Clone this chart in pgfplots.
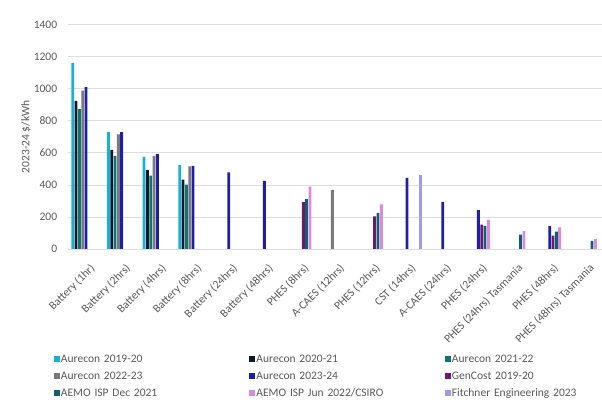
\documentclass[border=0pt]{standalone}
\usepackage{fontspec}
\setmainfont{Carlito}
\usepackage{pgfplots}
\pgfplotsset{compat=1.18}
\definecolor{cA}{RGB}{24,176,214}
\definecolor{cB}{RGB}{14,26,44}
\definecolor{cC}{RGB}{19,114,116}
\definecolor{cD}{RGB}{122,122,126}
\definecolor{cE}{RGB}{30,30,168}
\definecolor{cF}{RGB}{106,27,110}
\definecolor{cG}{RGB}{16,96,112}
\definecolor{cH}{RGB}{218,139,224}
\definecolor{cI}{RGB}{154,156,236}
\definecolor{gridc}{RGB}{222,222,222}
\definecolor{tickc}{RGB}{89,89,89}
\begin{document}
\begin{tikzpicture}[font=\fontsize{11.5}{13}\selectfont]
\path[use as bounding box] (-68.2pt,-154pt) rectangle (533.8pt,249pt);
\begin{axis}[
  scale only axis, width=535pt, height=224.3pt,
  xmin=-0.5, xmax=14.5, ymin=0, ymax=1400,
  enlargelimits=false,
  ybar=0.43pt, bar width=2.9pt,
  axis line style={draw=none},
  ymajorgrids, grid style={draw=gridc, line width=0.8pt},
  ytick={0,200,...,1400},
  xtick={0,...,14},
  xticklabels={Battery (1hr),Battery (2hrs),Battery (4hrs),Battery (8hrs),Battery (24hrs),Battery (48hrs),PHES (8hrs),A-CAES (12hrs),PHES (12hrs),CST (14hrs),A-CAES (24hrs),PHES (24hrs),PHES (24hrs) Tasmania,PHES (48hrs),PHES (48hrs) Tasmania},
  major tick length=0pt,
  tick label style={text=tickc, font=\fontsize{11.5}{13}\selectfont},
  /pgf/number format/assume math mode=true,
  /pgf/number format/1000 sep={},
  yticklabel style={inner sep=0pt, xshift=-10.9pt},
  xticklabel style={xshift=3.3pt, yshift=-13.7pt, rotate=45, anchor=north east, inner sep=0pt},
  ylabel={2023-24 \$/kWh},
  every axis y label/.style={at={(axis description cs:-0.0789,0.5)}, rotate=90, anchor=center, text=tickc},
  legend columns=3,
  legend style={at={(rel axis cs:-0.0266,-0.4503)}, anchor=north west, draw=none, fill=none,
    inner sep=0pt, outer sep=0pt, row sep=0pt, column sep=0pt,
    nodes={inner sep=0pt, text width=188.5pt, text height=12pt, text depth=5.3pt, text=tickc, font=\fontsize{11.5}{13}\selectfont},
    /tikz/every odd column/.append style={column sep=1pt}},
  every axis plot post/.append style={legend image code/.code={\fill[##1] (0pt,-3pt) rectangle (6pt,3pt);}},
]
\addplot[fill=cA, draw=none] coordinates {(0,1160) (1,729) (2,575) (3,523)};
\addplot[fill=cB, draw=none] coordinates {(0,925) (1,619) (2,492) (3,433)};
\addplot[fill=cC, draw=none] coordinates {(0,873) (1,581) (2,458) (3,402)};
\addplot[fill=cD, draw=none] coordinates {(0,988) (1,715) (2,581) (3,515) (7,369)};
\addplot[fill=cE, draw=none] coordinates {(0,1010) (1,729) (2,592) (3,519) (4,479) (5,425) (9,444) (10,292) (11,242) (13,142)};
\addplot[fill=cF, draw=none] coordinates {(6,292) (8,204) (11,152) (13,83)};
\addplot[fill=cG, draw=none] coordinates {(6,312) (8,225) (11,144) (12,90) (13,108) (14,50)};
\addplot[fill=cH, draw=none] coordinates {(6,390) (8,279) (11,181) (12,112) (13,135) (14,62)};
\addplot[fill=cI, draw=none] coordinates {(9,462)};
\legend{Aurecon 2019-20,Aurecon 2020-21,Aurecon 2021-22,Aurecon 2022-23,Aurecon 2023-24,GenCost 2019-20,AEMO ISP Dec 2021,AEMO ISP Jun 2022/CSIRO,Fitchner Engineering 2023}
\end{axis}
\end{tikzpicture}
\end{document}
